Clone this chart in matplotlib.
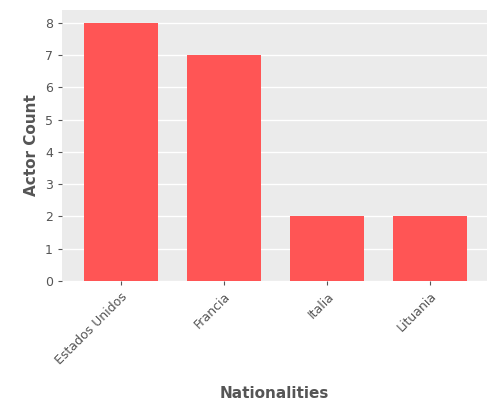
import matplotlib
matplotlib.use("Agg")
import matplotlib.pyplot as plt

categories = ["Estados Unidos", "Francia", "Italia", "Lituania"]
counts = [8, 7, 2, 2]

fig = plt.figure(figsize=(5, 4), dpi=100)
ax = fig.add_axes([0.124, 0.298, 0.85, 0.677])
ax.set_facecolor("#EBEBEB")
ax.bar(range(len(categories)), counts, width=0.72, color="#FF5555", zorder=3)
ax.set_xlim(-0.57, 3.55)
ax.set_ylim(0, 8.4)
ax.set_yticks(range(0, 9))
ax.set_xticks(range(len(categories)))
ax.set_xticklabels(categories, rotation=45, ha="right", rotation_mode="anchor")
ax.grid(axis="y", color="white", linewidth=1, zorder=0)
for s in ax.spines.values():
    s.set_visible(False)
ax.tick_params(colors="#555555", labelcolor="#555555", labelsize=9, length=3)
ax.set_ylabel("Actor Count", fontsize=11, fontweight="bold", color="#555555")
ax.set_xlabel("Nationalities", fontsize=11, fontweight="bold", color="#555555", labelpad=14)
fig.savefig("out.png")
